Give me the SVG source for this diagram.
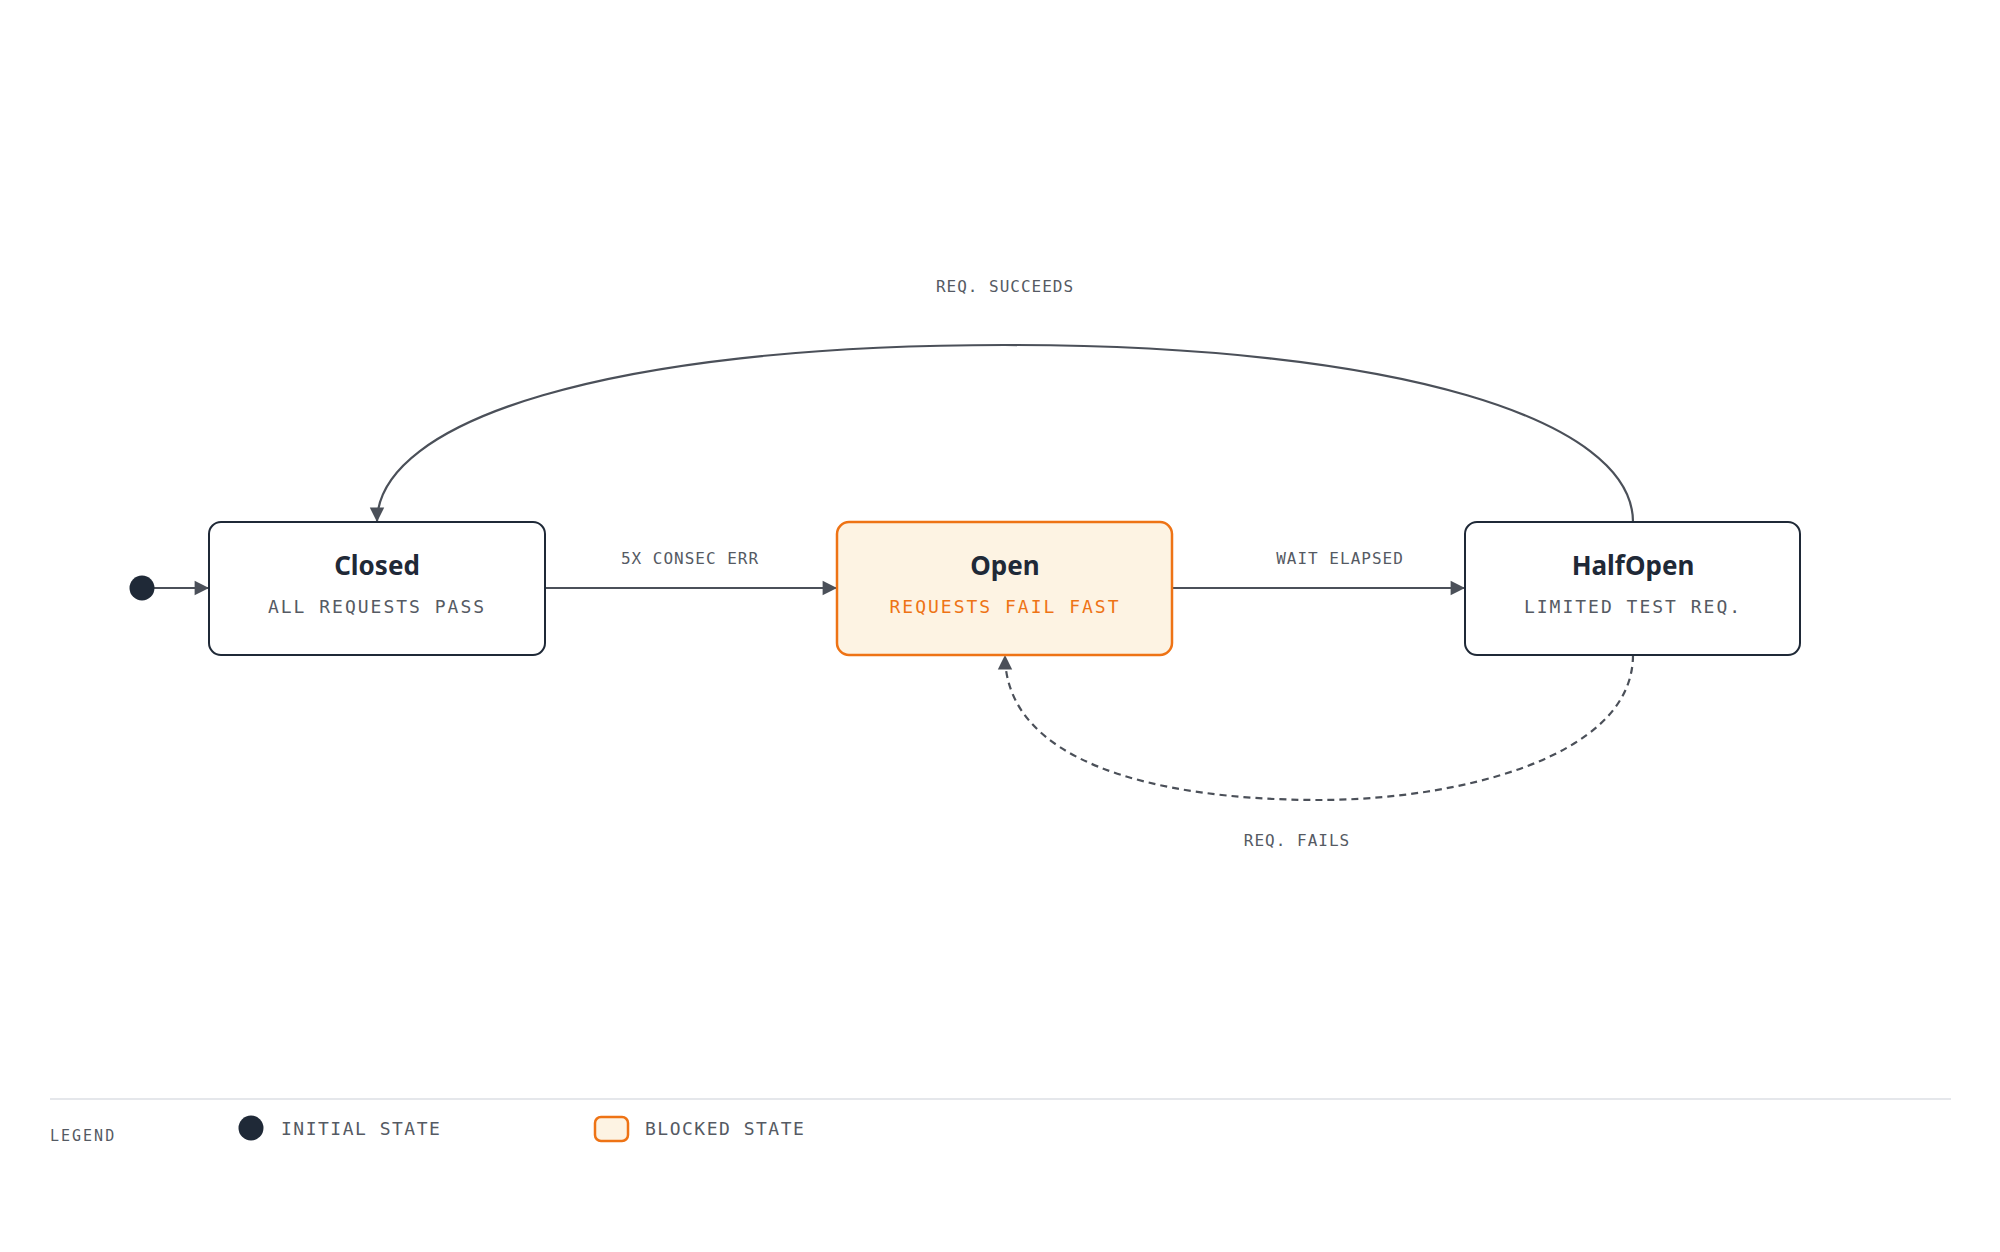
<svg xmlns="http://www.w3.org/2000/svg" width="2000" height="1252" viewBox="0 0 2000 1252">
<style>
.box{fill:#fff;stroke:#1f2937;stroke-width:2}
.blk{fill:#fdf3e3;stroke:#ee7315;stroke-width:2.5}
.t{font-family:"Noto Sans","Open Sans",sans-serif;font-weight:700;font-size:26px;fill:#1f2937;text-anchor:middle}
.s{font-family:"DejaVu Sans Mono","Liberation Mono",monospace;font-size:18px;fill:#555a63;text-anchor:middle;letter-spacing:2px}
.l{font-family:"DejaVu Sans Mono","Liberation Mono",monospace;font-size:16px;fill:#555a63;text-anchor:middle;letter-spacing:1px}
.e{fill:none;stroke:#4b5059;stroke-width:2.2}
</style>
<defs><marker id="a" viewBox="0 0 10 10" refX="10" refY="5" markerWidth="8" markerHeight="8" markerUnits="userSpaceOnUse" orient="auto" overflow="visible"><path d="M0,0 L10,5 L0,10 z" fill="#4b5059" transform="scale(1.8)" transform-origin="10 5"/></marker></defs>
<rect width="2000" height="1252" fill="#fff"/>
<g id="connectors">
<path class="e" d="M154,588 H209" marker-end="url(#a)"/>
<path class="e" d="M545,588 H837" marker-end="url(#a)"/>
<path class="e" d="M1172,588 H1465" marker-end="url(#a)"/>
<path class="e" d="M1633,522 C1633,420 1400,345 1005,345 C610,345 377,420 377,522" marker-end="url(#a)"/>
<path class="e" stroke-dasharray="7,5" d="M1633,655 C1633,760 1450,800 1320,800 C1150,800 1005,760 1005,655" marker-end="url(#a)"/>
<text class="l" x="690" y="564">5X CONSEC ERR</text>
<text class="l" x="1340" y="564">WAIT ELAPSED</text>
<text class="l" x="1005" y="292">REQ. SUCCEEDS</text>
<text class="l" x="1297" y="846">REQ. FAILS</text>
</g>
<g id="initial"><circle cx="142" cy="588" r="12.5" fill="#1f2937"/></g>
<g id="closed"><rect class="box" x="209" y="522" width="336" height="133" rx="12"/><text class="t" x="377" y="575">Closed</text><text class="s" x="377" y="613">ALL REQUESTS PASS</text></g>
<g id="open"><rect class="blk" x="837" y="522" width="335" height="133" rx="12"/><text class="t" x="1005" y="575">Open</text><text class="s" x="1005" y="613" style="fill:#ee7315">REQUESTS FAIL FAST</text></g>
<g id="halfopen"><rect class="box" x="1465" y="522" width="335" height="133" rx="12"/><text class="t" x="1633" y="575">HalfOpen</text><text class="s" x="1633" y="613">LIMITED TEST REQ.</text></g>
<g id="legend">
<line x1="50" y1="1099" x2="1951" y2="1099" stroke="#e5e7eb" stroke-width="2"/>
<text class="l" x="50" y="1141" style="text-anchor:start;font-size:15px;letter-spacing:2px">LEGEND</text>
<circle cx="251" cy="1128" r="12.5" fill="#1f2937"/>
<text class="s" x="281" y="1135" style="text-anchor:start;letter-spacing:1.5px">INITIAL STATE</text>
<rect x="595" y="1117" width="33" height="24" rx="6" fill="#fdf3e3" stroke="#ee7315" stroke-width="2.5"/>
<text class="s" x="645" y="1135" style="text-anchor:start;letter-spacing:1.5px">BLOCKED STATE</text>
</g>
</svg>
